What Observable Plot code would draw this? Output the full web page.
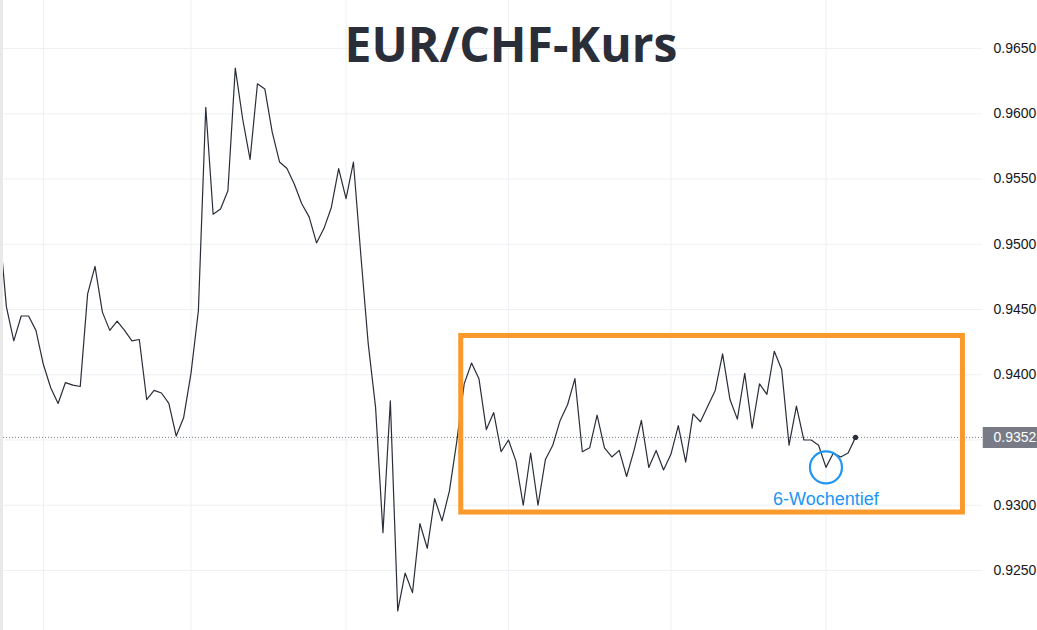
<!DOCTYPE html>
<html>
<head>
<meta charset="utf-8">
<script src="https://cdn.jsdelivr.net/npm/d3@7"></script>
<script src="https://cdn.jsdelivr.net/npm/@observablehq/plot@0.6"></script>
<style>
  html, body { margin: 0; padding: 0; background: #ffffff; }
  #chart { width: 1037px; height: 630px; overflow: hidden; }
</style>
</head>
<body>
<div id="chart"></div>
<script>
// EUR/CHF daily closes
const prices = [0.9516, 0.9452, 0.9426, 0.9445, 0.9445, 0.9434, 0.9408, 0.9390, 0.9378, 0.9394,
  0.9392, 0.9391, 0.9462, 0.9483, 0.9448, 0.9434, 0.9441, 0.9434, 0.9426, 0.9427,
  0.9381, 0.9388, 0.9386, 0.9378, 0.9353, 0.9367, 0.9401, 0.9449, 0.9605, 0.9523,
  0.9527, 0.9541, 0.9635, 0.9596, 0.9565, 0.9623, 0.9619, 0.9586, 0.9563, 0.9558,
  0.9546, 0.9531, 0.9521, 0.9501, 0.9512, 0.9528, 0.9558, 0.9535, 0.9563, 0.9492,
  0.9424, 0.9375, 0.9279, 0.9380, 0.9219, 0.9248, 0.9233, 0.9286, 0.9267, 0.9305,
  0.9288, 0.9311, 0.9349, 0.9393, 0.9409, 0.9397, 0.9358, 0.9371, 0.9341, 0.9350,
  0.9334, 0.9300, 0.9340, 0.9300, 0.9335, 0.9346, 0.9365, 0.9377, 0.9397, 0.9341,
  0.9344, 0.9369, 0.9344, 0.9337, 0.9342, 0.9322, 0.9342, 0.9365, 0.9329, 0.9342,
  0.9327, 0.9339, 0.9361, 0.9333, 0.9370, 0.9364, 0.9376, 0.9388, 0.9416, 0.9381,
  0.9366, 0.9401, 0.9359, 0.9393, 0.9385, 0.9418, 0.9404, 0.9346, 0.9376, 0.9350,
  0.9350, 0.9346, 0.9329, 0.9340, 0.9337, 0.9340, 0.9352];

// price grid lines and the labels shown on the price scale
const gridTicks = [0.925, 0.930, 0.935, 0.940, 0.945, 0.950, 0.955, 0.960, 0.965];
const labelTicks = [0.925, 0.930, 0.940, 0.945, 0.950, 0.955, 0.960, 0.965];
// session indices where vertical (month) grid lines fall
const monthStarts = [6, 26, 47, 69, 91, 112];

const titleText = "EUR/CHF-Kurs";
const lowLabel = "6-Wochentief";
const lowIndex = 112;
// highlighted consolidation range (in data units)
const box = [{x1: 62.6, x2: 130.55, y1: 0.92944, y2: 0.94297}];

const data = prices.map((v, i) => ({i, v}));
const last = data[data.length - 1];
const low = data[lowIndex];

const xDomain = [0.2, 133.2];
const blue = "#2196f3";

const chart = Plot.plot({
  width: 1037,
  height: 630,
  marginLeft: 0,
  marginRight: 55,
  marginTop: 0,
  marginBottom: 0,
  style: {fontFamily: "'Liberation Sans', Arial, sans-serif", fontSize: "14px", color: "#131722", background: "#ffffff"},
  x: {domain: xDomain, axis: null},
  y: {domain: [0.92040, 0.96868], axis: null},
  marks: [
    Plot.ruleY(gridTicks, {stroke: "#eef0f3", strokeWidth: 1}),
    Plot.ruleX(monthStarts, {stroke: "#eef0f3", strokeWidth: 1}),
    Plot.axisY(labelTicks, {anchor: "right", tickSize: 0, tickPadding: 11, tickFormat: d3.format(".4f"), label: null, fill: "#131722", fontSize: 14}),
    Plot.text([titleText], {frameAnchor: "top", dx: 19.5, dy: 27, lineAnchor: "top", fontFamily: "'Open Sans', 'Noto Sans', sans-serif", fontWeight: 700, fontSize: 48, fill: "#2a2e39"}),
    Plot.ruleY([last.v], {stroke: "#787b86", strokeWidth: 1, strokeDasharray: "1,2"}),
    Plot.line(data, {x: "i", y: "v", stroke: "#2a2e39", strokeWidth: 1.2, clip: true}),
    Plot.ruleX([xDomain[0]], {stroke: "#e9e9e9", strokeWidth: 5}),
    Plot.dot([last], {x: "i", y: "v", r: 2.6, fill: "#2a2e39", stroke: "none"}),
    Plot.rect(box, {x1: "x1", x2: "x2", y1: "y1", y2: "y2", fill: "none", stroke: "#fa9a2d", strokeWidth: 5}),
    Plot.dot([low], {x: "i", y: "v", r: 16, fill: "none", stroke: blue, strokeWidth: 2.2}),
    Plot.text([low], {x: "i", y: "v", text: () => lowLabel, dy: 25, lineAnchor: "top", fill: blue, fontSize: 18, fontFamily: "'Liberation Sans', Arial, sans-serif"}),
    Plot.ruleY([last.v], {x1: xDomain[1] + 0.1, x2: 141, stroke: "#787b86", strokeWidth: 21}),
    Plot.text([last], {y: "v", text: d => d3.format(".4f")(d.v), frameAnchor: "right", dx: 11, textAnchor: "start", fill: "#ffffff", fontSize: 14})
  ]
});
document.getElementById("chart").appendChild(chart);
</script>
</body>
</html>
